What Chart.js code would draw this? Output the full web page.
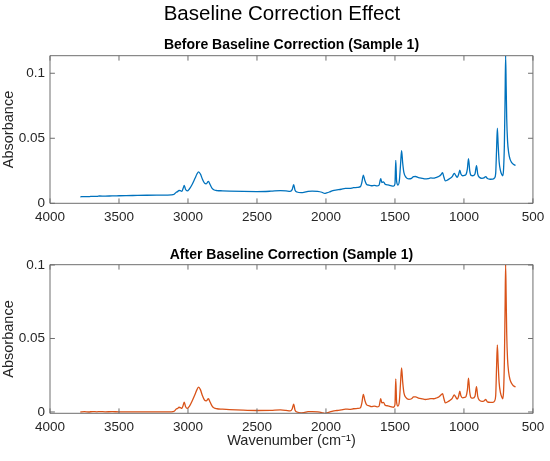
<!DOCTYPE html>
<html>
<head>
<meta charset="utf-8">
<script src="https://cdn.jsdelivr.net/npm/chart.js@4.4.0/dist/chart.umd.min.js"></script>
<style>
  html, body { margin: 0; padding: 0; background: #fff; }
  #wrap { position: relative; width: 550px; height: 461px; overflow: hidden; }
  .box { position: absolute; left: 0; width: 550px; }
  #mainTitle {
    position: absolute; left: 0; top: 0.5px; width: 564px; z-index: 2;
    text-align: center; font-family: 'Liberation Sans', Arial, Helvetica, sans-serif;
    font-size: 20.5px; line-height: 24.6px; color: #000; white-space: nowrap;
  }
</style>
</head>
<body>
<div id="wrap">
  <div class="box" style="top:0;height:230px"><canvas id="c1"></canvas></div>
  <div class="box" style="top:230px;height:231px"><canvas id="c2"></canvas></div>
  <div id="mainTitle"></div>
</div>
<script>
// ---- Data ----
const mainTitle = "Baseline Correction Effect";
const titleBefore = "Before Baseline Correction (Sample 1)";
const titleAfter = "After Baseline Correction (Sample 1)";
const xTicks = [4000, 3500, 3000, 2500, 2000, 1500, 1000, 500];
const yTicks = [0, 0.05, 0.1];

const wavenumbers = [
  3780,3750,3720,3690,3660,3640,3600,3550,3500,3400,3300,3200,3120,3100,3085,3075,3065,3055,3045,3035,
  3027,3018,3005,2990,2970,2950,2935,2923,2910,2895,2880,2868,2852,2840,2825,2810,2790,2750,2700,2600,
  2500,2400,2330,2290,2260,2245,2234,2224,2210,2180,2160,2130,2100,2060,2030,2010,1995,1975,1950,1920,
  1890,1860,1830,1800,1770,1750,1740,1729,1718,1705,1690,1670,1650,1630,1615,1603,1595,1583,1570,1550,
  1530,1510,1500,1494,1488,1478,1468,1460,1452,1444,1435,1420,1400,1380,1365,1350,1330,1300,1280,1260,
  1240,1220,1200,1180,1165,1155,1145,1135,1120,1100,1085,1070,1060,1048,1038,1030,1022,1010,995,985,
  975,967,958,948,935,920,909,900,888,870,855,842,830,810,790,778,770,764,758,752,
  745,735,725,719,713,707,702,698,694,690,684,676,666,655,642,626
];

const absorbanceBefore = [
  0.0050,0.0052,0.0051,0.0054,0.0053,0.0056,0.0055,0.0057,0.0058,0.0060,0.0062,0.0063,0.0065,0.0070,0.0085,0.0090,0.0100,0.0097,0.0092,0.0115,
  0.0138,0.0108,0.0095,0.0110,0.0145,0.0190,0.0225,0.0242,0.0225,0.0185,0.0155,0.0150,0.0168,0.0145,0.0115,0.0102,0.0098,0.0096,0.0094,0.0091,
  0.0090,0.0093,0.0097,0.0095,0.0092,0.0105,0.0143,0.0100,0.0087,0.0082,0.0084,0.0092,0.0094,0.0092,0.0085,0.0076,0.0080,0.0087,0.0098,0.0103,
  0.0108,0.0115,0.0114,0.0120,0.0123,0.0128,0.0160,0.0217,0.0175,0.0145,0.0140,0.0135,0.0138,0.0134,0.0140,0.0189,0.0160,0.0165,0.0145,0.0142,
  0.0136,0.0132,0.0150,0.0330,0.0170,0.0140,0.0175,0.0290,0.0405,0.0310,0.0235,0.0200,0.0188,0.0192,0.0205,0.0206,0.0198,0.0192,0.0188,0.0190,
  0.0195,0.0193,0.0200,0.0208,0.0222,0.0235,0.0200,0.0172,0.0178,0.0192,0.0205,0.0230,0.0215,0.0200,0.0225,0.0255,0.0225,0.0212,0.0215,0.0222,
  0.0265,0.0344,0.0250,0.0215,0.0212,0.0225,0.0290,0.0225,0.0200,0.0192,0.0195,0.0205,0.0190,0.0185,0.0186,0.0195,0.0230,0.0400,0.0578,0.0450,
  0.0320,0.0250,0.0220,0.0212,0.0260,0.0450,0.0800,0.1135,0.0900,0.0650,0.0480,0.0390,0.0340,0.0315,0.0300,0.0292
];

const absorbanceAfter = [
  0.0000,0.0002,0.0000,0.0003,0.0001,0.0003,0.0001,0.0002,0.0001,0.0001,0.0001,0.0001,0.0001,0.0005,0.0020,0.0024,0.0032,0.0030,0.0024,0.0045,
  0.0067,0.0038,0.0024,0.0038,0.0075,0.0118,0.0152,0.0169,0.0152,0.0110,0.0080,0.0075,0.0090,0.0068,0.0040,0.0027,0.0022,0.0019,0.0016,0.0012,
  0.0010,0.0011,0.0014,0.0011,0.0007,0.0020,0.0053,0.0012,0.0000,-0.0006,-0.0005,0.0002,0.0003,0.0001,-0.0004,-0.0009,-0.0006,-0.0001,0.0006,0.0010,
  0.0014,0.0020,0.0018,0.0022,0.0024,0.0029,0.0060,0.0120,0.0078,0.0048,0.0043,0.0037,0.0040,0.0035,0.0040,0.0090,0.0062,0.0065,0.0045,0.0042,
  0.0036,0.0032,0.0050,0.0225,0.0065,0.0040,0.0075,0.0190,0.0300,0.0205,0.0130,0.0097,0.0086,0.0090,0.0102,0.0103,0.0095,0.0089,0.0085,0.0087,
  0.0091,0.0090,0.0095,0.0104,0.0117,0.0125,0.0090,0.0062,0.0068,0.0080,0.0093,0.0116,0.0102,0.0087,0.0110,0.0142,0.0110,0.0096,0.0099,0.0106,
  0.0150,0.0230,0.0135,0.0097,0.0094,0.0107,0.0172,0.0106,0.0080,0.0072,0.0075,0.0085,0.0069,0.0065,0.0065,0.0075,0.0110,0.0290,0.0457,0.0330,
  0.0200,0.0130,0.0100,0.0090,0.0140,0.0340,0.0700,0.1002,0.0780,0.0530,0.0360,0.0270,0.0220,0.0195,0.0178,0.0170
];

document.getElementById('mainTitle').textContent = mainTitle;

// ---- Styling helpers ----
const FONT = "'Liberation Sans', Arial, Helvetica, sans-serif";
const TICK_COLOR = '#262626';

const boxPlugin = {
  id: 'matlabBox',
  afterDatasetsDraw(chart) {
    const {ctx, chartArea: a, scales} = chart;
    const len = 4.9;
    ctx.save();
    ctx.strokeStyle = '#6e6e6e';
    ctx.lineWidth = 1;
    ctx.beginPath();
    ctx.rect(a.left, a.top, a.right - a.left, a.bottom - a.top);
    ctx.stroke();
    ctx.beginPath();
    scales.x.ticks.forEach(t => {
      const px = scales.x.getPixelForValue(t.value);
      ctx.moveTo(px, a.bottom); ctx.lineTo(px, a.bottom - len);
      ctx.moveTo(px, a.top); ctx.lineTo(px, a.top + len);
    });
    scales.y.ticks.forEach(t => {
      const py = scales.y.getPixelForValue(t.value);
      ctx.moveTo(a.left, py); ctx.lineTo(a.left + len, py);
      ctx.moveTo(a.right, py); ctx.lineTo(a.right - len, py);
    });
    ctx.stroke();
    ctx.restore();
  }
};

function makePoints(ys) {
  return wavenumbers.map((w, i) => ({x: w, y: ys[i]}));
}

function makeChart(id, opts) {
  return new Chart(document.getElementById(id), {
    type: 'line',
    data: {
      datasets: [{
        data: makePoints(opts.values),
        borderColor: opts.color,
        borderWidth: 1.3,
        pointRadius: 0,
        fill: false,
        cubicInterpolationMode: 'monotone'
      }]
    },
    options: {
      responsive: true,
      maintainAspectRatio: false,
      animation: false,
      devicePixelRatio: 1,
      layout: {padding: {left: 0, right: 13.3, top: 0, bottom: 0}},
      plugins: {
        legend: {display: false},
        tooltip: {enabled: false},
        title: opts.title,
        subtitle: {display: false}
      },
      scales: {
        x: {
          type: 'linear',
          reverse: true,
          min: 500, max: 4000,
          grid: {display: false, drawTicks: false},
          border: {display: false},
          afterBuildTicks: s => { s.ticks = xTicks.map(v => ({value: v})); },
          afterFit: s => { s.height = opts.xHeight; },
          ticks: {
            color: TICK_COLOR,
            padding: 5.8,
            maxRotation: 0,
            autoSkip: false,
            font: {family: FONT, size: 13.5},
            callback: v => String(v)
          },
          title: opts.xTitle
        },
        y: {
          type: 'linear',
          min: opts.ymin, max: opts.ymax,
          grid: {display: false, drawTicks: false},
          border: {display: false},
          afterBuildTicks: s => { s.ticks = yTicks.map(v => ({value: v})); },
          afterFit: s => { s.width = 50; },
          ticks: {
            color: TICK_COLOR,
            padding: 5,
            autoSkip: false,
            font: {family: FONT, size: 13.5},
            callback: v => String(Math.round(v * 1000) / 1000)
          },
          title: {
            display: true,
            text: 'Absorbance',
            color: TICK_COLOR,
            font: {family: FONT, size: 14.5},
            padding: {top: 0.3, bottom: 0}
          }
        }
      }
    },
    plugins: [boxPlugin]
  });
}

makeChart('c1', {
  values: absorbanceBefore,
  color: '#0072BD',
  ymin: 0, ymax: 0.1135,
  xHeight: 26.7,
  xTitle: {display: false},
  title: {
    display: true, text: titleBefore, color: '#000', fullSize: false,
    font: {family: FONT, size: 14, weight: 'bold'},
    padding: {top: 36.3, bottom: 2.6}
  }
});

makeChart('c2', {
  values: absorbanceAfter,
  color: '#D95319',
  ymin: -0.0009, ymax: 0.1002,
  xHeight: 47.7,
  xTitle: {
    display: true, text: 'Wavenumber (cm\u207B\u00B9)', color: TICK_COLOR,
    font: {family: FONT, size: 14.5},
    padding: {top: 0, bottom: 11.6}
  },
  title: {
    display: true, text: titleAfter, color: '#000', fullSize: false,
    font: {family: FONT, size: 14, weight: 'bold'},
    padding: {top: 16.9, bottom: 1.0}
  }
});
</script>
</body>
</html>
